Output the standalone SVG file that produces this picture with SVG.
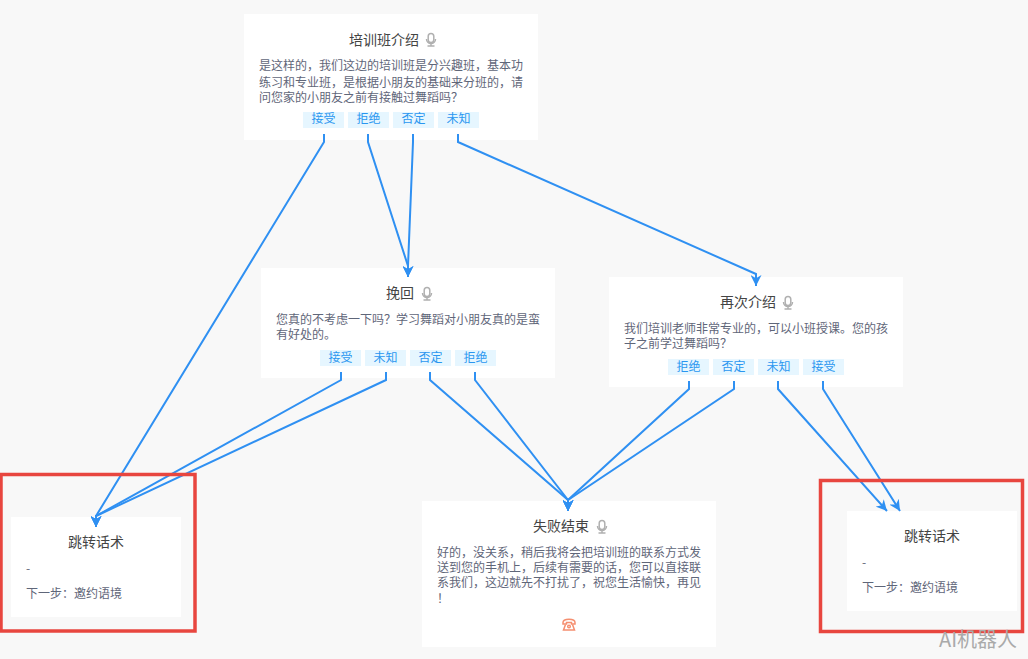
<svg xmlns="http://www.w3.org/2000/svg" width="1028" height="659" viewBox="0 0 1028 659">
<style>
text{font-family:"Noto Sans CJK SC","Liberation Sans",sans-serif}
.card{fill:#fff}
.t{font-size:14px;fill:#444;text-anchor:middle}
.b{font-size:12px;fill:#5f6679}
.tag{fill:#e6f6ff}
.tt{font-size:12px;fill:#2a96f0;text-anchor:middle}
.e{fill:none;stroke:#2f90f2;stroke-width:2}
.red{fill:none;stroke:#e8463f;stroke-width:3.5}
.mic{fill:none;stroke:#b0b0b0;stroke-width:1.5}
</style>
<defs>
<marker id="a" markerUnits="userSpaceOnUse" markerWidth="11" markerHeight="11" refX="10" refY="5" orient="auto" viewBox="0 0 10 10"><path d="M0 0L10 5L0 10L3 5Z" fill="#2f90f2"/></marker>
<g id="micI"><rect x="-2.800" y="-6.500" width="5.600" height="9" rx="2.800" fill="#ddd" class="mic"/><path d="M-4.500 -1A4.500 4.500 0 0 0 4.500 -1M0 3.500V5.500M-3.500 6H3.500" class="mic"/></g>
</defs>
<rect width="1028" height="659" fill="#f8f8f8"/>
<g id="n1"><rect class="card" x="244" y="14" width="294" height="126"/>
<text class="t" x="384" y="45">培训班介绍</text><use href="#micI" x="431" y="40"/>
<text class="b" x="259" y="70">是这样的，我们这边的培训班是分兴趣班，基本功</text>
<text class="b" x="259" y="87">练习和专业班，是根据小朋友的基础来分班的，请</text>
<text class="b" x="259" y="102">问您家的小朋友之前有接触过舞蹈吗？</text>
<rect class="tag" x="303" y="112" width="41" height="16"/><text class="tt" x="323.500" y="123">接受</text>
<rect class="tag" x="348" y="112" width="41" height="16"/><text class="tt" x="368.500" y="123">拒绝</text>
<rect class="tag" x="393" y="112" width="41" height="16"/><text class="tt" x="413.500" y="123">否定</text>
<rect class="tag" x="438" y="112" width="41" height="16"/><text class="tt" x="458.500" y="123">未知</text></g>
<g id="n2"><rect class="card" x="261" y="268" width="294" height="110"/>
<text class="t" x="400" y="298">挽回</text><use href="#micI" x="427" y="294"/>
<text class="b" x="276" y="324">您真的不考虑一下吗？学习舞蹈对小朋友真的是蛮</text>
<text class="b" x="276" y="339">有好处的。</text>
<rect class="tag" x="320" y="350" width="41" height="16"/><text class="tt" x="340.500" y="362">接受</text>
<rect class="tag" x="365" y="350" width="41" height="16"/><text class="tt" x="385.500" y="362">未知</text>
<rect class="tag" x="410" y="350" width="41" height="16"/><text class="tt" x="430.500" y="362">否定</text>
<rect class="tag" x="455" y="350" width="41" height="16"/><text class="tt" x="475.500" y="362">拒绝</text></g>
<g id="n3"><rect class="card" x="609" y="277" width="294" height="110"/>
<text class="t" x="748" y="307">再次介绍</text><use href="#micI" x="788" y="303"/>
<text class="b" x="624" y="333">我们培训老师非常专业的，可以小班授课。您的孩</text>
<text class="b" x="624" y="348">子之前学过舞蹈吗？</text>
<rect class="tag" x="668" y="359" width="41" height="16"/><text class="tt" x="688.500" y="371">拒绝</text>
<rect class="tag" x="713" y="359" width="41" height="16"/><text class="tt" x="733.500" y="371">否定</text>
<rect class="tag" x="758" y="359" width="41" height="16"/><text class="tt" x="778.500" y="371">未知</text>
<rect class="tag" x="803" y="359" width="41" height="16"/><text class="tt" x="823.500" y="371">接受</text></g>
<g id="n4"><rect class="card" x="422" y="501" width="294" height="146"/>
<text class="t" x="561" y="531">失败结束</text><use href="#micI" x="602" y="527"/>
<text class="b" x="437" y="557">好的，没关系，稍后我将会把培训班的联系方式发</text>
<text class="b" x="437" y="572">送到您的手机上，后续有需要的话，您可以直接联</text>
<text class="b" x="437" y="587">系我们，这边就先不打扰了，祝您生活愉快，再见</text>
<text class="b" x="437" y="603">！</text>
<g fill="none" stroke="#f58f70" stroke-width="1.500"><path d="M563 622.500C563 618 575 618 575 622.500V624H571.500V622.500H566.500V624H563Z"/><path d="M565.500 624.500L563.500 630H574.500L572.500 624.500"/><circle cx="569" cy="626.500" r="1.300"/></g></g>
<g id="n5"><rect class="card" x="11" y="517" width="170" height="100"/>
<text class="t" x="96" y="547">跳转话术</text>
<text class="b" x="26" y="573">-</text>
<text class="b" x="26" y="598">下一步：邀约语境</text></g>
<g id="n6"><rect class="card" x="847" y="511" width="170" height="100"/>
<text class="t" x="932" y="541">跳转话术</text>
<text class="b" x="862" y="567">-</text>
<text class="b" x="862" y="592">下一步：邀约语境</text></g>
<g id="connectors">
<path class="e" marker-end="url(#a)" d="M324 134V142L96 516V527"/>
<path class="e" marker-end="url(#a)" d="M368 134V142L408 266V277"/>
<path class="e" marker-end="url(#a)" d="M413 134V142L408 266V277"/>
<path class="e" marker-end="url(#a)" d="M458 134V142L756 274V286"/>
<path class="e" marker-end="url(#a)" d="M341 372V380L96 516V527"/>
<path class="e" marker-end="url(#a)" d="M386 372V380L96 516V527"/>
<path class="e" marker-end="url(#a)" d="M430 372V380L568 500V511"/>
<path class="e" marker-end="url(#a)" d="M475 372V380L568 500V511"/>
<path class="e" marker-end="url(#a)" d="M689 381V389L568 500V511"/>
<path class="e" marker-end="url(#a)" d="M734 381V389L568 500V511"/>
<path class="e" marker-end="url(#a)" d="M778 381V389L887 511"/>
<path class="e" marker-end="url(#a)" d="M823 381V389L900 511"/>
</g>
<rect class="red" x="1" y="474.500" width="194" height="156.500"/>
<rect class="red" x="820.500" y="480.500" width="202" height="151"/>
<text x="939" y="647" font-size="20" fill="#aaa">AI机器人</text>
</svg>
